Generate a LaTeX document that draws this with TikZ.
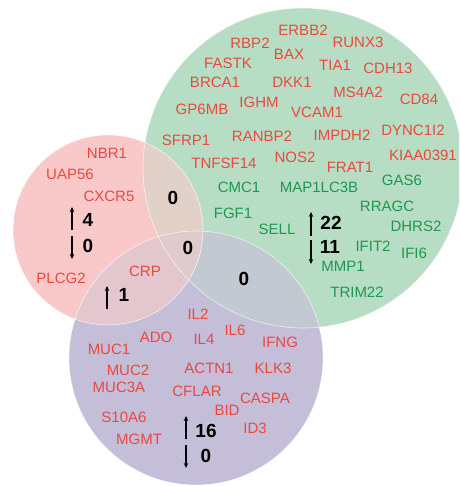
\documentclass[tikz,border=0pt]{standalone}
\usepackage{fontspec}
\setmainfont{Liberation Sans}
\usetikzlibrary{arrows.meta}

\definecolor{redonly}{RGB}{249,201,201}
\definecolor{greenonly}{RGB}{183,222,196}
\definecolor{purpleonly}{RGB}{196,190,216}
\definecolor{redgreen}{RGB}{226,209,200}
\definecolor{redpurple}{RGB}{227,198,206}
\definecolor{greenpurple}{RGB}{195,201,208}
\definecolor{allthree}{RGB}{223,203,203}
\definecolor{generd}{RGB}{236,72,62}
\definecolor{genegn}{RGB}{30,152,80}

\tikzset{
  gene/.style={inner sep=0pt, font=\fontsize{15}{18}\selectfont},
  upgene/.style={gene, text=generd},
  downgene/.style={gene, text=genegn},
  count/.style={inner sep=0pt, font=\fontsize{19}{22}\selectfont\bfseries},
  trend/.style={line width=1.6pt, -{Stealth[length=5pt,width=4.5pt]}},
  rim/.style={draw=white, draw opacity=0.7, line width=0.6pt}
}

\begin{document}
\begin{tikzpicture}[x=1pt,y=-1pt]
    \useasboundingbox (0,0) rectangle (459,486);
    \clip (0,0) rectangle (459,486);

    \coordinate (R) at (108,230);
    \coordinate (G) at (303,168);
    \coordinate (P) at (196,358);

    % circles and their overlaps
    \fill[greenonly] (G) circle (160pt);
    \fill[purpleonly] (P) circle (127pt);
    \fill[redonly] (R) circle (95pt);
    \begin{scope}
        \clip (G) circle (160pt);
        \fill[greenpurple] (P) circle (127pt);
    \end{scope}
    \begin{scope}
        \clip (R) circle (95pt);
        \fill[redgreen] (G) circle (160pt);
        \fill[redpurple] (P) circle (127pt);
        \clip (G) circle (160pt);
        \fill[allthree] (P) circle (127pt);
    \end{scope}
    \draw[rim] (G) circle (160pt);
    \draw[rim] (P) circle (127pt);
    \draw[rim] (R) circle (95pt);

    % first set
    \node[upgene] (nbr1) at (107,153) {NBR1};
    \node[upgene] (uap56) at (70,174) {UAP56};
    \node[upgene] (cxcr5) at (109,196) {CXCR5};
    \node[upgene] (plcg2) at (61,278) {PLCG2};
    \coordinate (r1) at (72,230); \coordinate (r2) at (72,207);
    \coordinate (r3) at (72,236); \coordinate (r4) at (72,259);
    \draw[trend] (r1) -- (r2); \node[count] (rup) at (88,220) {4};
    \draw[trend] (r3) -- (r4); \node[count] (rdown) at (88,246) {0};

    % second set
    \node[upgene] (erbb2) at (303,30) {ERBB2};
    \node[upgene] (rbp2) at (250,43) {RBP2};
    \node[upgene] (runx3) at (358,42) {RUNX3};
    \node[upgene] (bax) at (289,54) {BAX};
    \node[upgene] (fastk) at (228,63) {FASTK};
    \node[upgene] (tia1) at (335,65) {TIA1};
    \node[upgene] (cdh13) at (388,68) {CDH13};
    \node[upgene] (brca1) at (215,82) {BRCA1};
    \node[upgene] (dkk1) at (292,82) {DKK1};
    \node[upgene] (ms4a2) at (358,92) {MS4A2};
    \node[upgene] (cd84) at (419,99) {CD84};
    \node[upgene] (gp6mb) at (202,109) {GP6MB};
    \node[upgene] (ighm) at (259,102) {IGHM};
    \node[upgene] (vcam1) at (317,112) {VCAM1};
    \node[upgene] (sfrp1) at (186,140) {SFRP1};
    \node[upgene] (ranbp2) at (262,136) {RANBP2};
    \node[upgene] (impdh2) at (342,135) {IMPDH2};
    \node[upgene] (dync1i2) at (413,130) {DYNC1I2};
    \node[upgene] (tnfsf14) at (224,163) {TNFSF14};
    \node[upgene] (nos2) at (295,157) {NOS2};
    \node[upgene] (kiaa0391) at (423,155) {KIAA0391};
    \node[upgene] (frat1) at (350,167) {FRAT1};
    \node[downgene] (gas6) at (402,180) {GAS6};
    \node[downgene] (cmc1) at (239,187) {CMC1};
    \node[downgene] (map1lc3b) at (319,187) {MAP1LC3B};
    \node[downgene] (rragc) at (387,206) {RRAGC};
    \node[downgene] (fgf1) at (233,213) {FGF1};
    \node[downgene] (sell) at (277,229) {SELL};
    \node[downgene] (dhrs2) at (416,226) {DHRS2};
    \node[downgene] (ifit2) at (373,246) {IFIT2};
    \node[downgene] (ifi6) at (414,253) {IFI6};
    \node[downgene] (mmp1) at (343,266) {MMP1};
    \node[downgene] (trim22) at (357,292) {TRIM22};
    \coordinate (g1) at (311,236); \coordinate (g2) at (311,212);
    \coordinate (g3) at (311,240); \coordinate (g4) at (311,264);
    \draw[trend] (g1) -- (g2); \node[count] (gup) at (331,223) {22};
    \draw[trend] (g3) -- (g4); \node[count] (gdown) at (330,247) {11};

    % third set
    \node[upgene] (il2) at (198,314) {IL2};
    \node[upgene] (il6) at (235,330) {IL6};
    \node[upgene] (ado) at (156,337) {ADO};
    \node[upgene] (il4) at (204,339) {IL4};
    \node[upgene] (ifng) at (280,342) {IFNG};
    \node[upgene] (muc1) at (109,349) {MUC1};
    \node[upgene] (actn1) at (209,368) {ACTN1};
    \node[upgene] (klk3) at (273,368) {KLK3};
    \node[upgene] (muc2) at (128,370) {MUC2};
    \node[upgene] (muc3a) at (119,387) {MUC3A};
    \node[upgene] (cflar) at (197,391) {CFLAR};
    \node[upgene] (caspa) at (265,398) {CASPA};
    \node[upgene] (bid) at (227,410) {BID};
    \node[upgene] (s10a6) at (124,417) {S10A6};
    \node[upgene] (id3) at (255,428) {ID3};
    \node[upgene] (mgmt) at (139,439) {MGMT};
    \coordinate (p1) at (186,439); \coordinate (p2) at (186,416);
    \coordinate (p3) at (186,445); \coordinate (p4) at (186,468);
    \draw[trend] (p1) -- (p2); \node[count] (pup) at (206,431) {16};
    \draw[trend] (p3) -- (p4); \node[count] (pdown) at (206,456) {0};

    % overlaps
    \node[upgene] (crp) at (145,271) {CRP};
    \coordinate (rp1) at (107,309); \coordinate (rp2) at (107,286);
    \draw[trend] (rp1) -- (rp2); \node[count] (rpup) at (124,295) {1};
    \node[count] (rg) at (173,198) {0};
    \node[count] (rgp) at (188,248) {0};
    \node[count] (gp) at (244,279) {0};
\end{tikzpicture}
\end{document}
